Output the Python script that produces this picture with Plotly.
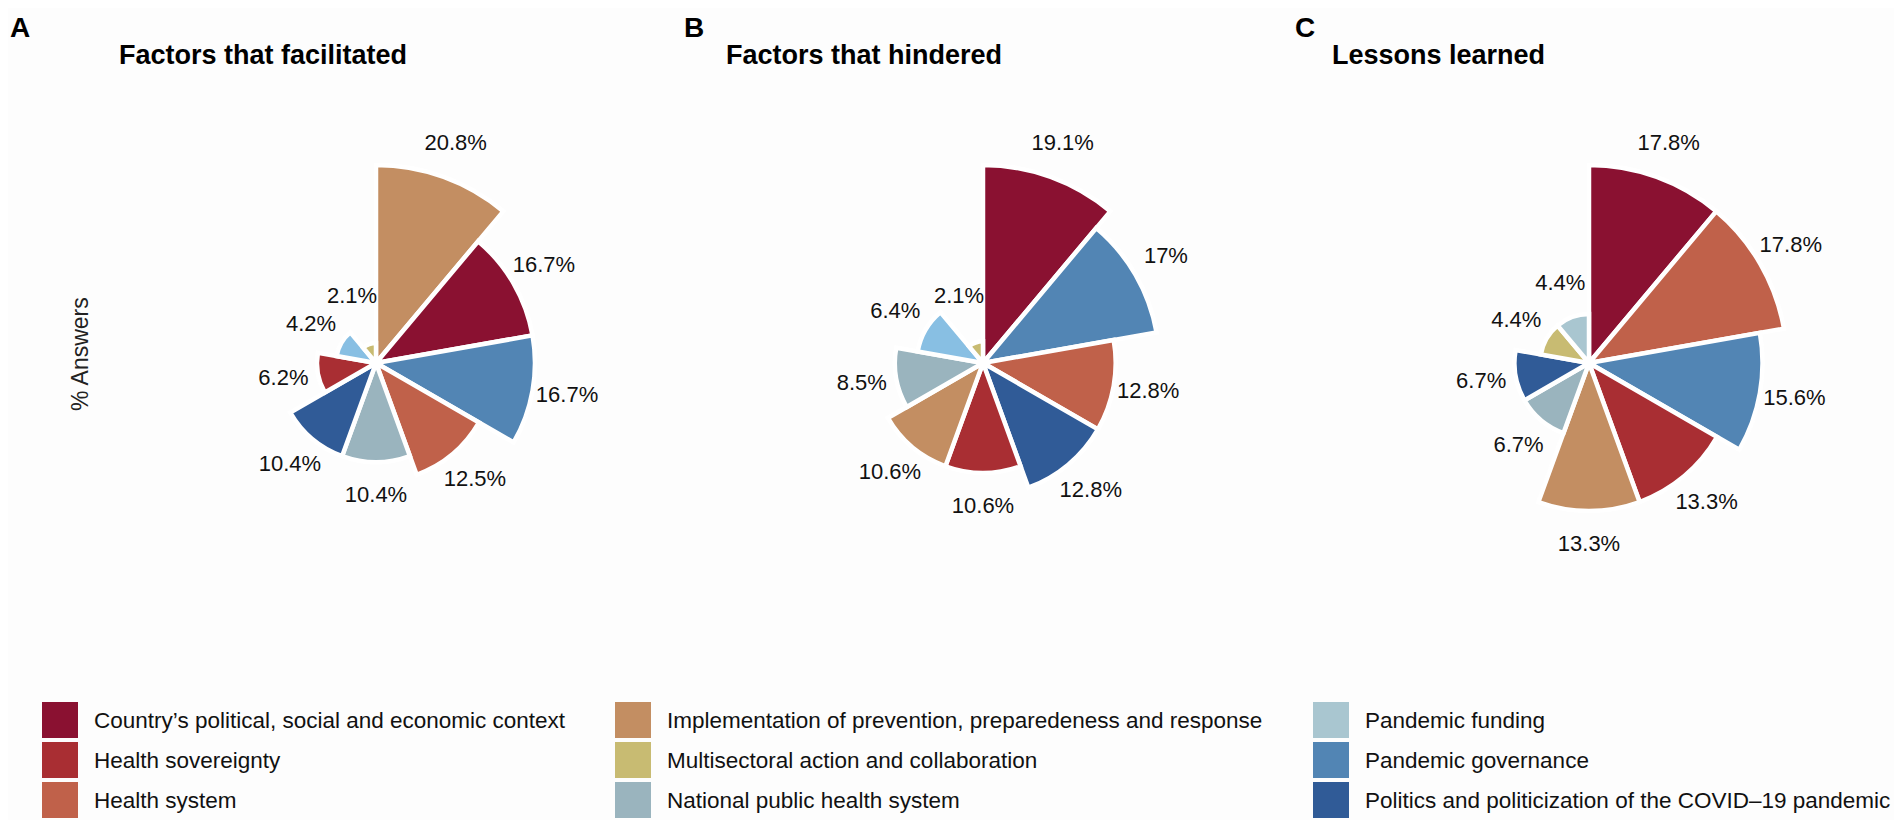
import plotly.graph_objects as go

# browser window is 1902x828; the page body keeps its 8px margin,
# so the figure is made 16px smaller and every position is given in window px
W, H = 1902, 828
OFF = 8
FW, FH = W - 2 * OFF, H - 2 * OFF

# categories shared by the three panels, with legend colours
categories = [
    "Country’s political, social and economic context",
    "Health sovereignty",
    "Health system",
    "Implementation of prevention, preparedeness and response",
    "Multisectoral action and collaboration",
    "National public health system",
    "Pandemic funding",
    "Pandemic governance",
    "Politics and politicization of the COVID–19 pandemic",
]
colours = ["#8A1131", "#A92E33", "#C0614A", "#C38E62", "#C8BB72",
           "#9AB4BE", "#A9C6D0", "#5285B4", "#305B97"]
colour_of = dict(zip(categories, colours))

# panel A - factors that facilitated (clockwise from 12 o'clock)
a_cats = [categories[3], categories[0], categories[7], categories[2], categories[5],
          categories[8], categories[1], categories[6], categories[4]]
a_vals = [20.8, 16.7, 16.7, 12.5, 10.4, 10.4, 6.2, 4.2, 2.1]

# panel B - factors that hindered
b_cats = [categories[0], categories[7], categories[2], categories[8], categories[1],
          categories[3], categories[5], categories[6], categories[4]]
b_vals = [19.1, 17, 12.8, 12.8, 10.6, 10.6, 8.5, 6.4, 2.1]

# panel C - lessons learned
c_cats = [categories[0], categories[2], categories[7], categories[1], categories[3],
          categories[5], categories[8], categories[4], categories[6]]
c_vals = [17.8, 17.8, 15.6, 13.3, 13.3, 6.7, 6.7, 4.4, 4.4]

panel_letters = ["A", "B", "C"]
panel_titles = ["Factors that facilitated", "Factors that hindered", "Lessons learned"]
# in A and B the funding wedge was drawn in a brighter blue
funding_shade = ["#88BFE3", "#88BFE3", None]

FONT = "Liberation Sans, Arial, Helvetica, sans-serif"


def xp(x):
    return (x - OFF) / FW


def yp(y):
    return 1 - (y - OFF) / FH


centres_x = [376, 983, 1589]
centre_y = 363
r_max_px = 198
half = r_max_px * 1.3
label_gap = 35   # px from wedge end to label centre
label_min = 70   # px, keeps tiny labels off the centre

fig = go.Figure()
panels = [(a_cats, a_vals), (b_cats, b_vals), (c_cats, c_vals)]
layout_polars = {}
for i, (cats, vals) in enumerate(panels):
    name = "polar" if i == 0 else f"polar{i+1}"
    n = len(vals)
    step = 360 / n
    theta = [step / 2 + step * k for k in range(n)]
    cols = []
    for c in cats:
        if c == categories[6] and funding_shade[i]:
            cols.append(funding_shade[i])
        else:
            cols.append(colour_of[c])
    vmax = max(vals)
    u = r_max_px / vmax  # px per unit
    lab_r = [max(v * u + label_gap, label_min) / u for v in vals]
    fig.add_trace(go.Barpolar(
        r=vals, theta=theta, width=[step] * n,
        marker=dict(color=cols, line=dict(color="white", width=4.5)),
        subplot=name, showlegend=False, hovertext=cats, hoverinfo="text+r",
    ))
    fig.add_trace(go.Scatterpolar(
        r=lab_r, theta=theta, mode="text",
        text=[f"{v:g}%" for v in vals],
        textposition="middle center",
        textfont=dict(family=FONT, size=22, color="#111111"),
        subplot=name, showlegend=False, hoverinfo="skip", cliponaxis=False,
    ))
    cx = centres_x[i]
    layout_polars[name] = dict(
        domain=dict(x=[xp(cx - half), xp(cx + half)],
                    y=[yp(centre_y + half), yp(centre_y - half)]),
        bgcolor="rgba(0,0,0,0)",
        radialaxis=dict(visible=False, range=[0, vmax * 1.3]),
        angularaxis=dict(visible=False, direction="clockwise", rotation=90),
    )

annotations = []
letter_x = [8, 682, 1293]
title_x = [117, 724, 1330]
for i in range(3):
    annotations.append(dict(
        text=f"<b>{panel_letters[i]}</b>", x=xp(letter_x[i]), y=yp(27),
        xref="paper", yref="paper", xanchor="left", yanchor="middle",
        showarrow=False, font=dict(family=FONT, size=28, color="black")))
    annotations.append(dict(
        text=f"<b>{panel_titles[i]}</b>", x=xp(title_x[i]), y=yp(55),
        xref="paper", yref="paper", xanchor="left", yanchor="middle",
        showarrow=False, font=dict(family=FONT, size=27, color="black")))

annotations.append(dict(
    text="% Answers", x=xp(65), y=yp(354), xref="paper", yref="paper",
    textangle=-90, showarrow=False, font=dict(family=FONT, size=23, color="#222222")))

# legend drawn as swatches + labels, three columns of three
shapes = []
col_x = [42, 615, 1313]
row_y = [720, 760, 800]
sw, sh = 36, 36
for k, cat in enumerate(categories):
    col, row = divmod(k, 3)
    x0 = col_x[col]
    yc = row_y[row]
    shapes.append(dict(
        type="rect", xref="paper", yref="paper",
        x0=xp(x0), x1=xp(x0 + sw),
        y0=yp(yc + sh / 2), y1=yp(yc - sh / 2),
        fillcolor=colour_of[cat], line=dict(width=0)))
    annotations.append(dict(
        text=cat, x=xp(x0 + sw + 14), y=yp(yc), xref="paper", yref="paper",
        xanchor="left", yanchor="middle", showarrow=False,
        font=dict(family=FONT, size=22.5, color="#111111")))

fig.update_layout(
    width=FW, height=FH,
    margin=dict(l=0, r=0, t=0, b=0),
    paper_bgcolor="#FDFDFD", plot_bgcolor="#FDFDFD",
    showlegend=False,
    annotations=annotations, shapes=shapes,
    **layout_polars,
)

fig.write_html("out.html")
